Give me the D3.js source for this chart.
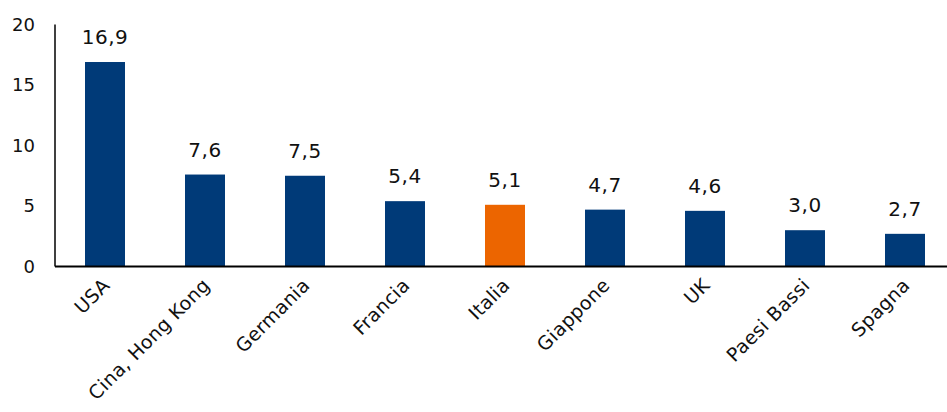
<!DOCTYPE html>
<html>
<head>
<meta charset="utf-8">
<script src="https://cdn.jsdelivr.net/npm/d3@7"></script>
<style>
  html, body { margin: 0; padding: 0; background: #fff; }
  svg { display: block; font-family: "DejaVu Sans", "Lato", sans-serif; }
</style>
</head>
<body>
<svg id="chart" width="947" height="412"></svg>
<script>
// Categories and values (shares, %)
const categories = ["USA", "Cina, Hong Kong", "Germania", "Francia", "Italia", "Giappone", "UK", "Paesi Bassi", "Spagna"];
const values = [16.9, 7.6, 7.5, 5.4, 5.1, 4.7, 4.6, 3.0, 2.7];
const highlight = ["Italia"];
const yTicks = [0, 5, 10, 15, 20];

const svg = d3.select("#chart");
const plot = { left: 55, right: 955, top: 24.5, bottom: 266.5 };

const x = d3.scaleBand().domain(categories).range([plot.left, plot.right]).paddingInner(0.6).paddingOuter(0.3);
const y = d3.scaleLinear().domain([0, 20]).range([plot.bottom, plot.top]);

const fmt = v => d3.format(".1f")(v).replace(".", ",");

// Bars
svg.append("g").selectAll("rect")
  .data(categories)
  .join("rect")
  .attr("x", d => x(d))
  .attr("width", x.bandwidth())
  .attr("y", (d, i) => y(values[i]))
  .attr("height", (d, i) => y(0) - y(values[i]))
  .attr("fill", d => highlight.includes(d) ? "#EC6500" : "#003A78");

// Value labels
svg.append("g").selectAll("text")
  .data(categories)
  .join("text")
  .attr("x", d => x(d) + x.bandwidth() / 2)
  .attr("y", (d, i) => y(values[i]) - 18)
  .attr("text-anchor", "middle")
  .attr("font-size", 20)
  .attr("letter-spacing", 0.5)
  .attr("fill", "#111")
  .text((d, i) => fmt(values[i]));

// Y axis
const yAxis = svg.append("g")
  .attr("transform", `translate(${plot.left},0)`)
  .call(d3.axisLeft(y).tickValues(yTicks).tickSize(0).tickPadding(20).tickFormat(d3.format("d")));
yAxis.select(".domain").attr("stroke", "#000").attr("stroke-width", 1.5).attr("d", `M0,${plot.top}V${plot.bottom}`);
yAxis.selectAll("text").attr("font-size", 18).attr("fill", "#111").attr("font-family", "DejaVu Sans, sans-serif");

// X axis
const xAxis = svg.append("g")
  .attr("transform", `translate(0,${plot.bottom})`)
  .call(d3.axisBottom(x).tickSize(0).tickPadding(0));
xAxis.select(".domain").attr("stroke", "#000").attr("stroke-width", 2).attr("d", `M${plot.left},0H947`);
xAxis.selectAll(".tick text")
  .attr("font-size", 19)
  .attr("letter-spacing", 0.3)
  .attr("fill", "#111")
  .attr("font-family", "DejaVu Sans, sans-serif")
  .attr("text-anchor", "end")
  .attr("dy", 0)
  .attr("transform", "translate(6,20) rotate(-45)");
</script>
</body>
</html>
